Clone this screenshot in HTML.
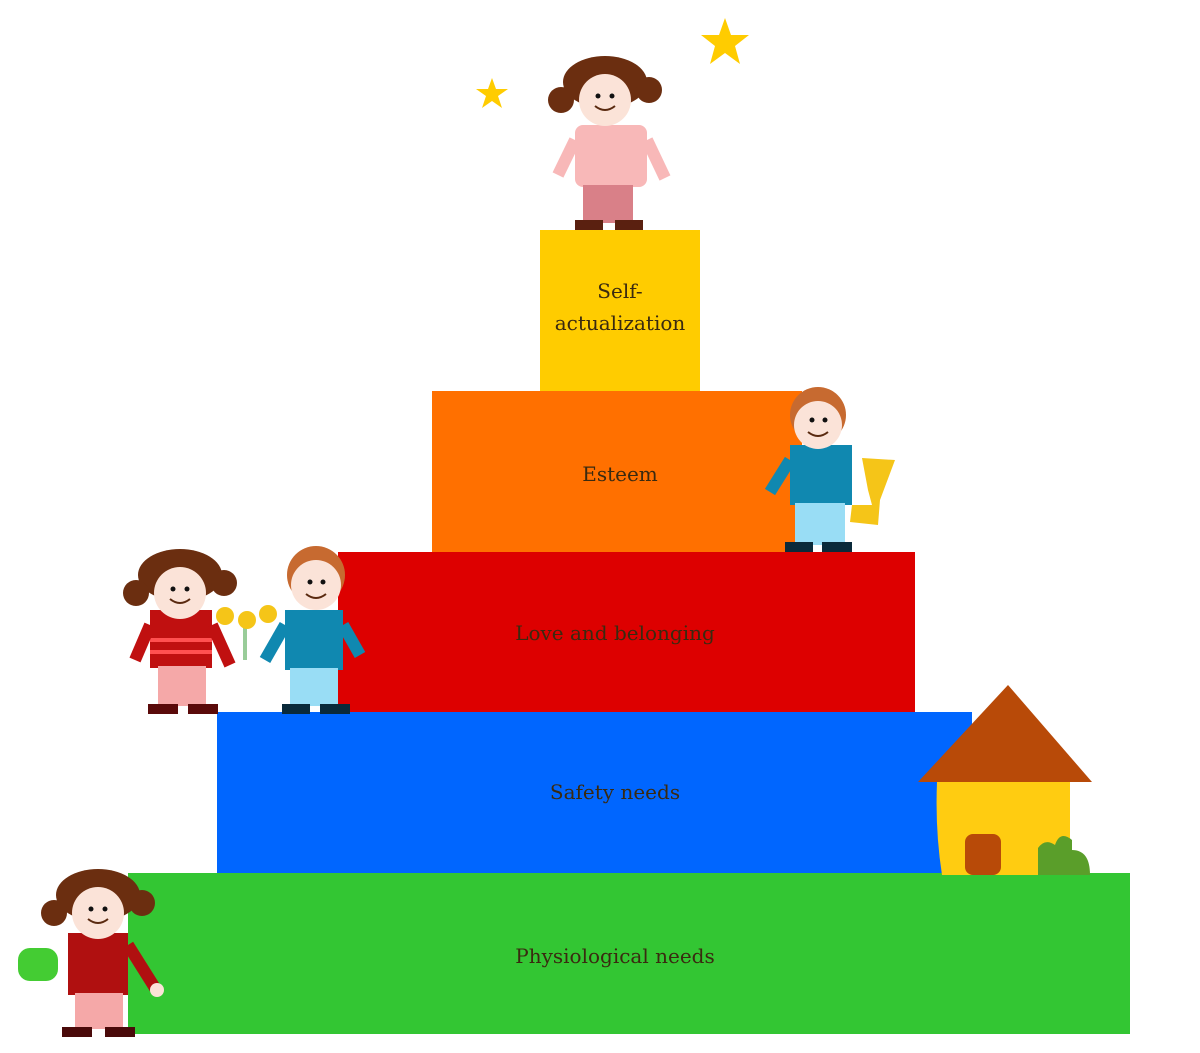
<!DOCTYPE html>
<html><head><meta charset="utf-8"><style>
html,body{margin:0;padding:0;background:#fff;}
svg{display:block;}
text{font-family:"DejaVu Serif","Liberation Serif",serif;font-size:20px;fill:#3a2a10;}
</style></head><body>
<svg width="1200" height="1053" viewBox="0 0 1200 1053" xmlns="http://www.w3.org/2000/svg">
<defs>
<g id="girl">
 <!-- hair -->
 <ellipse cx="0" cy="-10" rx="42" ry="26" fill="#6b2e10"/>
 <circle cx="-44" cy="8" r="13" fill="#6b2e10"/>
 <circle cx="44" cy="-2" r="13" fill="#6b2e10"/>
 <circle cx="0" cy="8" r="26" fill="#fbe3d8"/>
 <circle cx="-7" cy="4" r="2.5" fill="#111"/><circle cx="7" cy="4" r="2.5" fill="#111"/>
 <path d="M-10 14 Q0 22 10 14" stroke="#5a2a10" stroke-width="2" fill="none"/>
</g>
</defs>

<!-- blocks -->
<rect x="540" y="230" width="160" height="161" fill="#ffcc00"/>
<rect x="432" y="391" width="370" height="162" fill="#ff7000"/>
<rect x="338" y="552" width="577" height="161" fill="#dd0000"/>
<rect x="217" y="712" width="755" height="162" fill="#0066ff"/>
<rect x="128" y="873" width="1002" height="161" fill="#33c633"/>

<text x="620" y="298" text-anchor="middle">Self-</text>
<text x="620" y="330" text-anchor="middle">actualization</text>
<text x="620" y="481" text-anchor="middle">Esteem</text>
<text x="615" y="640" text-anchor="middle">Love and belonging</text>
<text x="615" y="799" text-anchor="middle">Safety needs</text>
<text x="615" y="963" text-anchor="middle">Physiological needs</text>

<!-- stars -->
<polygon points="725,18 731,35 749,35 735,46 740,64 725,53 710,64 715,46 701,35 719,35" fill="#ffcc00"/>
<polygon points="492,78 496,89 508,89 498,96 502,108 492,101 482,108 486,96 476,89 488,89" fill="#ffcc00"/>

<!-- top girl -->
<rect x="575" y="125" width="72" height="62" rx="8" fill="#f8b8b8"/>
<rect x="583" y="185" width="50" height="38" fill="#d98088"/>
<rect x="575" y="220" width="28" height="10" fill="#5a2010"/><rect x="615" y="220" width="28" height="10" fill="#5a2010"/>
<line x1="575" y1="140" x2="558" y2="175" stroke="#f8b8b8" stroke-width="12"/>
<line x1="647" y1="140" x2="665" y2="178" stroke="#f8b8b8" stroke-width="12"/>
<use href="#girl" x="605" y="92"/>

<!-- esteem boy -->
<rect x="790" y="445" width="62" height="60" fill="#1088b0"/>
<rect x="795" y="503" width="50" height="42" fill="#99ddf5"/>
<rect x="785" y="542" width="28" height="10" fill="#0a2a3a"/><rect x="822" y="542" width="30" height="10" fill="#0a2a3a"/>
<line x1="790" y1="460" x2="770" y2="492" stroke="#1088b0" stroke-width="12"/>
<polygon points="862,458 895,460 880,500 878,525 850,522 852,505 872,505 868,490" fill="#f5c518"/>
<circle cx="818" cy="415" r="28" fill="#c76a30"/>
<circle cx="818" cy="425" r="24" fill="#fbe3d8"/>
<circle cx="812" cy="420" r="2.5" fill="#111"/><circle cx="825" cy="420" r="2.5" fill="#111"/>
<path d="M808 432 Q818 440 828 432" stroke="#5a2a10" stroke-width="2" fill="none"/>

<!-- love girl -->
<rect x="150" y="610" width="62" height="58" fill="#c01010"/>
<line x1="150" y1="640" x2="212" y2="640" stroke="#ff5050" stroke-width="4"/>
<line x1="150" y1="652" x2="212" y2="652" stroke="#ff5050" stroke-width="4"/>
<rect x="158" y="666" width="48" height="40" fill="#f5a8a8"/>
<rect x="148" y="704" width="30" height="10" fill="#5a0a0a"/><rect x="188" y="704" width="30" height="10" fill="#5a0a0a"/>
<line x1="150" y1="625" x2="135" y2="660" stroke="#c01010" stroke-width="12"/>
<line x1="212" y1="625" x2="230" y2="665" stroke="#c01010" stroke-width="12"/>
<use href="#girl" x="180" y="585"/>
<!-- flowers -->
<line x1="245" y1="620" x2="245" y2="660" stroke="#9c9" stroke-width="4"/>
<circle cx="225" cy="616" r="9" fill="#f5c518"/><circle cx="247" cy="620" r="9" fill="#f5c518"/><circle cx="268" cy="614" r="9" fill="#f5c518"/>
<!-- love boy -->
<rect x="285" y="610" width="58" height="60" fill="#1088b0"/>
<rect x="290" y="668" width="48" height="38" fill="#99ddf5"/>
<rect x="282" y="704" width="28" height="10" fill="#0a2a3a"/><rect x="320" y="704" width="30" height="10" fill="#0a2a3a"/>
<line x1="343" y1="625" x2="360" y2="655" stroke="#1088b0" stroke-width="12"/>
<line x1="285" y1="625" x2="265" y2="660" stroke="#1088b0" stroke-width="12"/>
<circle cx="316" cy="575" r="29" fill="#c76a30"/>
<circle cx="316" cy="585" r="25" fill="#fbe3d8"/>
<circle cx="310" cy="582" r="2.5" fill="#111"/><circle cx="323" cy="582" r="2.5" fill="#111"/>
<path d="M306 594 Q316 602 326 594" stroke="#5a2a10" stroke-width="2" fill="none"/>

<!-- house -->
<polygon points="1008,685 1092,782 918,782" fill="#b84a08"/>
<path d="M937 782 H1070 V875 H942 Q935 830 937 782Z" fill="#ffcc11"/>
<rect x="965" y="834" width="36" height="41" rx="8" fill="#b84a08"/>
<path d="M1038 875 V848 Q1045 838 1055 845 Q1060 830 1072 840 V850 Q1090 850 1090 875Z" fill="#5a9e2a"/>

<!-- bottom girl -->
<rect x="68" y="933" width="60" height="62" fill="#b01010"/>
<rect x="75" y="993" width="48" height="36" fill="#f5a8a8"/>
<rect x="62" y="1027" width="30" height="10" fill="#4a0a0a"/><rect x="105" y="1027" width="30" height="10" fill="#4a0a0a"/>
<line x1="128" y1="945" x2="155" y2="988" stroke="#b01010" stroke-width="12"/>
<circle cx="157" cy="990" r="7" fill="#fbe3d8"/>
<rect x="18" y="948" width="40" height="33" rx="12" fill="#44cc33"/>
<use href="#girl" x="98" y="905"/>
</svg>
</body></html>
